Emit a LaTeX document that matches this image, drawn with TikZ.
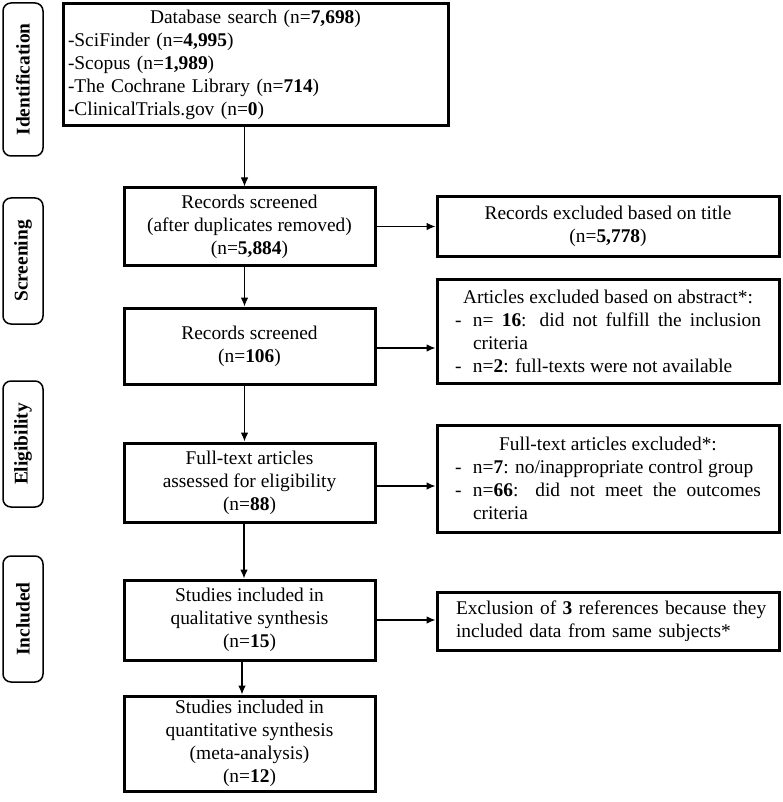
\documentclass[tikz,border=0pt]{standalone}
\usepackage{fontspec}
\setmainfont{Liberation Serif}
\usetikzlibrary{arrows.meta}
\begin{document}
\begin{tikzpicture}[x=1pt,y=-1pt,
  font=\fontsize{19.4}{23}\selectfont,
  mbox/.style={draw, line width=3pt, inner sep=0pt},
  side/.style={draw, line width=1.5pt, rounded corners=8pt, rotate=90, minimum height=40pt, inner sep=0pt, font=\fontsize{19.4}{23}\selectfont\bfseries},
  arr/.style={line width=1.1pt, -{Latex[length=9pt,width=7.5pt]}}
]
\useasboundingbox (0,0) rectangle (782,802);

% side labels
\node[side, minimum width=153pt] (sid) at (23,79.5) {Identification};
\node[side, minimum width=126pt] (sscr) at (23,261) {Screening};
\node[side, minimum width=126pt] (selig) at (23,444) {Eligibility};
\node[side, minimum width=126pt] (sinc) at (23,619) {Included};

% main column
\node[mbox, minimum width=385pt, minimum height=122pt, text width=375pt] (b1) at (255.5,64.5)
{\parindent=0pt\raggedright{\centering Database search (n=\textbf{7,698})\par}
-SciFinder (n=\textbf{4,995})\par
-Scopus (n=\textbf{1,989})\par
-The Cochrane Library (n=\textbf{714})\par
-ClinicalTrials.gov (n=\textbf{0})\par};

\node[mbox, minimum width=251pt, minimum height=77pt, align=center] (b2) at (249.5,226.5)
{Records screened\\(after duplicates removed)\\(n=\textbf{5,884})};
\node[mbox, minimum width=251pt, minimum height=76pt, align=center] (b3) at (249.5,346)
{Records screened\\(n=\textbf{106})};
\node[mbox, minimum width=251pt, minimum height=79pt, align=center] (b4) at (249.5,482.5)
{Full-text articles\\assessed for eligibility\\(n=\textbf{88})};
\node[mbox, minimum width=251pt, minimum height=80pt, align=center] (b5) at (249.5,620)
{Studies included in\\qualitative synthesis\\(n=\textbf{15})};
\node[mbox, minimum width=251pt, minimum height=95pt, align=center] (b6) at (249.5,743.5)
{Studies included in\\quantitative synthesis\\(meta-analysis)\\(n=\textbf{12})};

% right column
\node[mbox, minimum width=342pt, minimum height=59pt, align=center] (r1) at (608,226.5)
{Records excluded based on title\\(n=\textbf{5,778})};
\node[mbox, minimum width=342pt, minimum height=104pt, text width=306pt, align=justify] (r2) at (608,331)
{\parindent=0pt\hyphenpenalty=10000\exhyphenpenalty=10000{\centering Articles excluded based on abstract*:\par}
\hangindent=18pt\hangafter=1\noindent\makebox[18pt][l]{-}n= \textbf{16}: did not fulfill the inclusion criteria\par
\hangindent=18pt\hangafter=1\noindent\makebox[18pt][l]{-}n=\textbf{2}: full-texts were not available\par};
\node[mbox, minimum width=342pt, minimum height=107pt, text width=306pt, align=justify] (r3) at (608,478.5)
{\parindent=0pt\hyphenpenalty=10000\exhyphenpenalty=10000{\centering Full-text articles excluded*:\par}
\hangindent=18pt\hangafter=1\noindent\makebox[18pt][l]{-}n=\textbf{7}: no/inappropriate control group\par
\hangindent=18pt\hangafter=1\noindent\makebox[18pt][l]{-}n=\textbf{66}: did not meet the outcomes criteria\par};
\node[mbox, minimum width=342pt, minimum height=58pt, text width=304pt, align=left] (r4) at (608,621)
{\mbox{Exclusion of \textbf{3} references because they}\\included data from same subjects*};

% vertical arrows
\draw[arr] ([xshift=-5pt]b2.north |- b1.south) -- ([xshift=-5pt]b2.north);
\draw[arr] ([xshift=-5pt]b2.south) -- ([xshift=-5pt]b3.north);
\draw[arr] ([xshift=-5pt]b3.south) -- ([xshift=-5pt]b4.north);
\draw[arr] ([xshift=-5.5pt]b4.south) -- ([xshift=-5.5pt]b5.north);
\draw[arr] ([xshift=-7.5pt]b5.south) -- ([xshift=-7.5pt]b6.north);

% horizontal arrows
\draw[arr] (b2.east) -- (b2.east -| r1.west);
\draw[arr] ([yshift=-2pt]b3.east) -- ([yshift=-2pt]b3.east -| r2.west);
\draw[arr] ([yshift=-3.5pt]b4.east) -- ([yshift=-3.5pt]b4.east -| r3.west);
\draw[arr] (b5.east) -- (b5.east -| r4.west);
\end{tikzpicture}
\end{document}
